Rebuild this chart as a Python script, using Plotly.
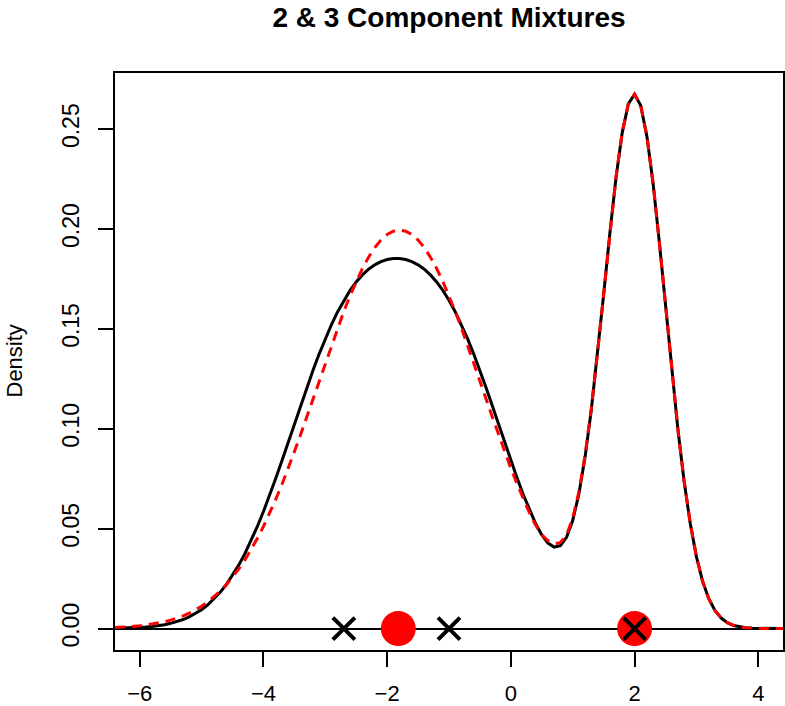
import numpy as np
import plotly.graph_objects as go

# x grid of the two density curves (step 0.1)
x_grid = np.round(np.arange(-64, 45) / 10, 1)

# 3 component mixture density (black solid)
dens3 = [
    0.00014, 0.00020, 0.00029, 0.00041, 0.00057, 0.00080, 0.00109, 0.00148, 0.00198, 0.00265,
    0.00348, 0.00454, 0.00586, 0.00749, 0.00948, 0.01189, 0.01476, 0.01814, 0.02207, 0.02661,
    0.03176, 0.03754, 0.04397, 0.05100, 0.05860, 0.06671, 0.07526, 0.08413, 0.09323, 0.10240,
    0.11154, 0.12051, 0.12917, 0.13742, 0.14513, 0.15222, 0.15864, 0.16433, 0.16929, 0.17352,
    0.17704, 0.17988, 0.18208, 0.18369, 0.18474, 0.18526, 0.18526, 0.18474, 0.18369, 0.18208,
    0.17988, 0.17704, 0.17352, 0.16929, 0.16433, 0.15864, 0.15222, 0.14513, 0.13742, 0.12917,
    0.12051, 0.11155, 0.10242, 0.09327, 0.08422, 0.07545, 0.06712, 0.05942, 0.05259, 0.04692,
    0.04282, 0.04082, 0.04154, 0.04572, 0.05414, 0.06739, 0.08584, 0.10930, 0.13695, 0.16717,
    0.19767, 0.22562, 0.24815, 0.26267, 0.26744, 0.26178, 0.24631, 0.22272, 0.19354, 0.16160,
    0.12966, 0.09996, 0.07405, 0.05270, 0.03604, 0.02368, 0.01495, 0.00907, 0.00529, 0.00295,
    0.00159, 0.00082, 0.00041, 0.00019, 0.00009, 0.00004, 0.00002, 0.00001, 0.00000,
]

# 2 component mixture density (red dashed)
dens2 = [
    0.00052, 0.00067, 0.00086, 0.00110, 0.00140, 0.00177, 0.00222, 0.00277, 0.00344, 0.00424,
    0.00521, 0.00636, 0.00773, 0.00933, 0.01120, 0.01337, 0.01587, 0.01873, 0.02199, 0.02567,
    0.02980, 0.03439, 0.03948, 0.04505, 0.05113, 0.05770, 0.06476, 0.07227, 0.08019, 0.08849,
    0.09709, 0.10594, 0.11494, 0.12401, 0.13304, 0.14193, 0.15057, 0.15883, 0.16661, 0.17379,
    0.18026, 0.18593, 0.19069, 0.19448, 0.19724, 0.19891, 0.19947, 0.19891, 0.19724, 0.19448,
    0.19069, 0.18593, 0.18026, 0.17379, 0.16661, 0.15883, 0.15057, 0.14193, 0.13304, 0.12401,
    0.11494, 0.10595, 0.09711, 0.08853, 0.08028, 0.07246, 0.06517, 0.05800, 0.05180, 0.04700,
    0.04400, 0.04250, 0.04300, 0.04680, 0.05520, 0.06840, 0.08680, 0.11010, 0.13760, 0.16770,
    0.19810, 0.22590, 0.24840, 0.26280, 0.26750, 0.26180, 0.24640, 0.22280, 0.19370, 0.16180,
    0.12980, 0.10010, 0.07420, 0.05280, 0.03610, 0.02370, 0.01500, 0.00910, 0.00530, 0.00300,
    0.00160, 0.00080, 0.00040, 0.00020, 0.00010, 0.00005, 0.00003, 0.00001, 0.00000,
]

# component means
means3 = [-2.7, -1.0, 2.0]
means2 = [-1.82, 2.0]

x_ticks = [-6, -4, -2, 0, 2, 4]
y_ticks = [0.00, 0.05, 0.10, 0.15, 0.20, 0.25]

fig = go.Figure()
fig.add_trace(go.Scatter(x=x_grid, y=dens3, mode="lines",
                         line=dict(color="black", width=3)))
fig.add_trace(go.Scatter(x=x_grid, y=dens2, mode="lines",
                         line=dict(color="#ff0000", width=3, dash="10px,7px")))
fig.add_trace(go.Scatter(x=means2, y=[0] * len(means2), mode="markers",
                         marker=dict(color="#ff0000", size=35, symbol="circle")))
fig.add_trace(go.Scatter(x=means3, y=[0] * len(means3), mode="markers",
                         marker=dict(symbol="x-thin", size=22,
                                     line=dict(color="black", width=4))))

fig.update_layout(
    width=785, height=706,
    margin=dict(l=115, r=2, t=73, b=56, autoexpand=False),
    plot_bgcolor="white", paper_bgcolor="white",
    showlegend=False,
    font=dict(family="Liberation Sans, Arial, sans-serif", size=23, color="black"),
    title=dict(text="<b>2 & 3 Component Mixtures</b>", font=dict(size=28),
               x=0.5, xref="paper", xanchor="center",
               y=1 - 17 / 706, yref="container", yanchor="middle"),
    annotations=[dict(text="Density", textangle=-90, xref="paper", yref="paper",
                      x=(14 - 115) / 668, y=0.5, showarrow=False,
                      xanchor="center", yanchor="middle", font=dict(size=22))],
)
fig.update_xaxes(range=[-6.4, 4.4], tickvals=x_ticks, ticks="outside", ticklen=15,
                 tickwidth=1.5, tickcolor="black", showline=True, linecolor="black",
                 linewidth=1.5, mirror=True, showgrid=False, zeroline=False,
                 ticklabelstandoff=8, tickfont=dict(size=22), automargin=False)
fig.update_yaxes(range=[-0.0107, 0.2781], tickvals=y_ticks, tickformat=".2f",
                 tickangle=-90, ticks="outside", ticklen=15, tickwidth=1.5,
                 tickcolor="black", showline=True, linecolor="black", linewidth=1.5,
                 mirror=True, showgrid=False, zeroline=True, zerolinecolor="black",
                 zerolinewidth=1.5, ticklabelstandoff=10, automargin=False)

# drop the default page margin so the figure fills the window
fig.write_html("out.html", config={"displayModeBar": False},
               post_script="document.body.style.margin='0px';"
                           "document.body.style.overflow='hidden';")
